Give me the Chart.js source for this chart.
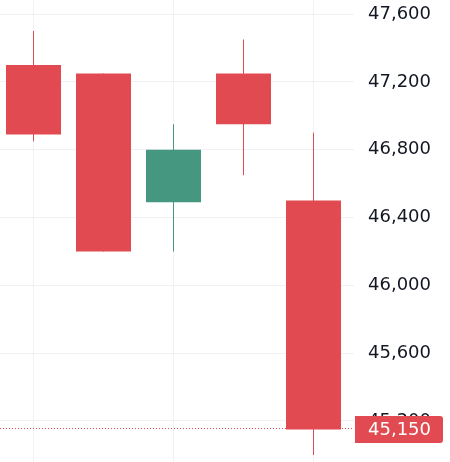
<!DOCTYPE html>
<html>
<head>
<meta charset="utf-8">
<script src="https://cdn.jsdelivr.net/npm/chart.js@4.4.1/dist/chart.umd.min.js"></script>
<style>
  html, body { margin: 0; padding: 0; background: #fff; }
  #wrap { width: 450px; height: 462px; }
</style>
</head>
<body>
<div id="wrap"><canvas id="chart"></canvas></div>
<script>
// candles, left to right
const candles = [0, 1, 2, 3, 4];
const opens  = [47300, 47250, 46490, 47250, 46500];
const closes = [46890, 46200, 46800, 46950, 45150];
const highs  = [47500, 47250, 46950, 47450, 46900];
const lows   = [46850, 46200, 46200, 46650, 45000];
const priceTicks = [45200, 45600, 46000, 46400, 46800, 47200, 47600];

const UP = '#45977f';
const DOWN = '#e04a50';
const FONT = '18px "DejaVu Sans"';
const colors = candles.map(i => closes[i] >= opens[i] ? UP : DOWN);
const lastClose = closes[closes.length - 1];

const fmt = v => v.toLocaleString('en-US');

// dotted last-price line + price tag on the axis
const priceLine = {
  id: 'priceLine',
  beforeDatasetsDraw(chart) {
    const y = Math.round(chart.scales.y.getPixelForValue(lastClose)) - 0.5;
    const ctx = chart.ctx;
    const area = chart.chartArea;
    ctx.save();
    ctx.strokeStyle = DOWN;
    ctx.lineWidth = 1;
    ctx.setLineDash([1, 2]);
    ctx.beginPath();
    ctx.moveTo(area.left, y);
    ctx.lineTo(area.right, y);
    ctx.stroke();
    ctx.restore();
  },
  afterDraw(chart) {
    const y = chart.scales.y.getPixelForValue(lastClose);
    const ctx = chart.ctx;
    const x0 = chart.chartArea.right + 1;
    const w = 88, h = 27;
    ctx.save();
    ctx.fillStyle = DOWN;
    ctx.beginPath();
    ctx.roundRect(x0, Math.round(y - h / 2), w, h, [0, 3, 3, 0]);
    ctx.fill();
    ctx.fillStyle = '#ffffff';
    ctx.font = FONT;
    ctx.textBaseline = 'middle';
    ctx.textAlign = 'left';
    ctx.fillText(fmt(lastClose), x0 + 13, y + 0.5);
    ctx.restore();
  }
};

Chart.defaults.font.family = 'DejaVu Sans';
Chart.defaults.font.size = 18;
Chart.defaults.color = '#131722';

new Chart(document.getElementById('chart'), {
  type: 'bar',
  data: {
    datasets: [
      {
        label: 'body',
        data: candles.map(i => ({ x: i, y: [opens[i], closes[i]] })),
        backgroundColor: colors,
        borderColor: colors,
        barThickness: 55,
        borderWidth: 0,
        inflateAmount: 0,
        grouped: false
      },
      {
        label: 'wick',
        data: candles.map(i => ({ x: i, y: [lows[i], highs[i]] })),
        backgroundColor: colors,
        borderColor: colors,
        barThickness: 1,
        borderWidth: 0,
        inflateAmount: 0,
        grouped: false
      }
    ]
  },
  options: {
    responsive: true,
    maintainAspectRatio: false,
    animation: false,
    layout: { padding: 0 },
    plugins: {
      legend: { display: false },
      tooltip: { enabled: false }
    },
    scales: {
      x: {
        type: 'linear',
        offset: false,
        min: -33.5 / 70,
        max: 320.5 / 70,
        afterBuildTicks: s => { s.ticks = candles.filter(i => i % 2 === 0).map(v => ({ value: v })); },
        afterFit: s => { s.height = 0; s.paddingLeft = 0; s.paddingRight = 0; },
        ticks: { display: false },
        grid: { color: '#f0f1f4', drawTicks: false, offset: false },
        border: { display: false }
      },
      y: {
        position: 'right',
        min: 44958,
        max: 47683,
        afterBuildTicks: s => { s.ticks = priceTicks.map(v => ({ value: v })); },
        afterFit: s => { s.width = 96; s.paddingTop = 0; s.paddingBottom = 0; },
        ticks: {
          padding: 14,
          callback: v => fmt(v)
        },
        grid: { color: '#f0f1f4', drawTicks: false },
        border: { display: false }
      }
    }
  },
  plugins: [priceLine]
});
</script>
</body>
</html>
